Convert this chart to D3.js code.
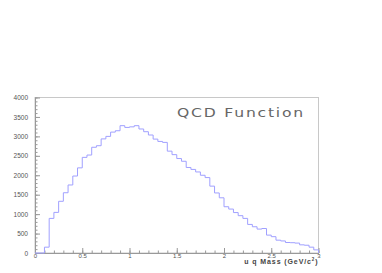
<!DOCTYPE html>
<html>
<head>
<meta charset="utf-8">
<script src="https://cdn.jsdelivr.net/npm/d3@7"></script>
<style>
  body { margin: 0; background: #fff; }
  svg { display: block; }
  .tick text { fill: #555; }
</style>
</head>
<body>
<svg width="382" height="273"></svg>
<script>
// histogram: 60 bins of width 0.05 from 0 to 3
const binWidth = 0.05;
const counts = [
  0, 0, 150, 890, 1045, 1330, 1550, 1750, 1980, 2190,
  2460, 2520, 2720, 2760, 2935, 3000, 3110, 3145, 3275, 3230,
  3245, 3275, 3190, 3120, 3035, 2930, 2870, 2845, 2620, 2530,
  2430, 2360, 2200, 2150, 2085, 2000, 1940, 1720, 1545, 1420,
  1190, 1130, 1040, 960, 890, 735, 675, 615, 630, 460,
  420, 330, 310, 270, 265, 255, 210, 200, 150, 80
];
const xTicks = [0, 0.5, 1, 1.5, 2, 2.5, 3];
const yTicks = [0, 500, 1000, 1500, 2000, 2500, 3000, 3500, 4000];
const title = "QCD Function";
const xTitle = "u q Mass (GeV/c";

const svg = d3.select("svg");
const mLeft = 35, mRight = 318.5, mTop = 97.5, mBottom = 253;

const x = d3.scaleLinear().domain([0, 3]).range([mLeft, mRight]);
const y = d3.scaleLinear().domain([0, 4000]).range([mBottom, mTop]);

// frame
svg.append("rect")
  .attr("x", mLeft).attr("y", mTop)
  .attr("width", mRight - mLeft).attr("height", mBottom - mTop)
  .attr("fill", "none").attr("stroke", "#c8c8c8").attr("stroke-width", 1);

// minor ticks
svg.append("g")
  .attr("transform", `translate(0,${mBottom})`)
  .call(d3.axisBottom(x).tickValues(d3.range(0, 3.01, 0.1)).tickSizeInner(-2.5).tickSizeOuter(0).tickFormat(""))
  .call(g => g.select(".domain").remove())
  .call(g => g.selectAll("line").attr("stroke", "#999"));
svg.append("g")
  .attr("transform", `translate(${mLeft},0)`)
  .call(d3.axisLeft(y).tickValues(d3.range(0, 4001, 100)).tickSizeInner(-2.5).tickSizeOuter(0).tickFormat(""))
  .call(g => g.select(".domain").remove())
  .call(g => g.selectAll("line").attr("stroke", "#999"));

// major ticks + labels
svg.append("g")
  .attr("transform", `translate(0,${mBottom})`)
  .call(d3.axisBottom(x).tickValues(xTicks).tickSizeInner(-5).tickSizeOuter(0).tickPadding(0.5).tickFormat(d => d))
  .call(g => g.select(".domain").attr("stroke", "#999"))
  .call(g => g.selectAll("line").attr("stroke", "#999"))
  .call(g => g.selectAll("text").attr("font-family", "Liberation Sans, Arial, sans-serif").attr("font-size", 6));
svg.append("g")
  .attr("transform", `translate(${mLeft},0)`)
  .call(d3.axisLeft(y).tickValues(yTicks).tickSizeInner(-5).tickSizeOuter(0).tickPadding(7).tickFormat(d => d))
  .call(g => g.select(".domain").attr("stroke", "#999"))
  .call(g => g.selectAll("line").attr("stroke", "#999"))
  .call(g => g.selectAll("text").attr("font-family", "Liberation Sans, Arial, sans-serif").attr("font-size", 6.5));

// histogram outline
const pts = [[0, 0]];
counts.forEach((c, i) => {
  pts.push([i * binWidth, c]);
  pts.push([(i + 1) * binWidth, c]);
});
pts.push([counts.length * binWidth, 0]);
svg.append("path")
  .datum(pts)
  .attr("fill", "none")
  .attr("stroke", "#a0a0ff")
  .attr("stroke-width", 1)
  .attr("d", d3.line().x(d => x(d[0])).y(d => y(d[1])));

// title
svg.append("text")
  .attr("x", 177).attr("y", 117)
  .attr("font-family", "DejaVu Sans, sans-serif")
  .attr("font-size", 13)
  .attr("fill", "#666")
  .attr("letter-spacing", 1.5)
  .attr("textLength", 128)
  .attr("lengthAdjust", "spacingAndGlyphs")
  .text(title);

// x axis title
const xt = svg.append("text")
  .attr("x", mRight).attr("y", 264)
  .attr("text-anchor", "end")
  .attr("font-family", "Liberation Sans, Arial, sans-serif")
  .attr("font-size", 7)
  .attr("font-weight", "bold")
  .attr("fill", "#444")
  .attr("letter-spacing", 0.9);
xt.append("tspan").text(xTitle);
xt.append("tspan").attr("font-size", 4.5).attr("dy", -3).text("2");
xt.append("tspan").attr("dy", 3).text(")");
</script>
</body>
</html>
